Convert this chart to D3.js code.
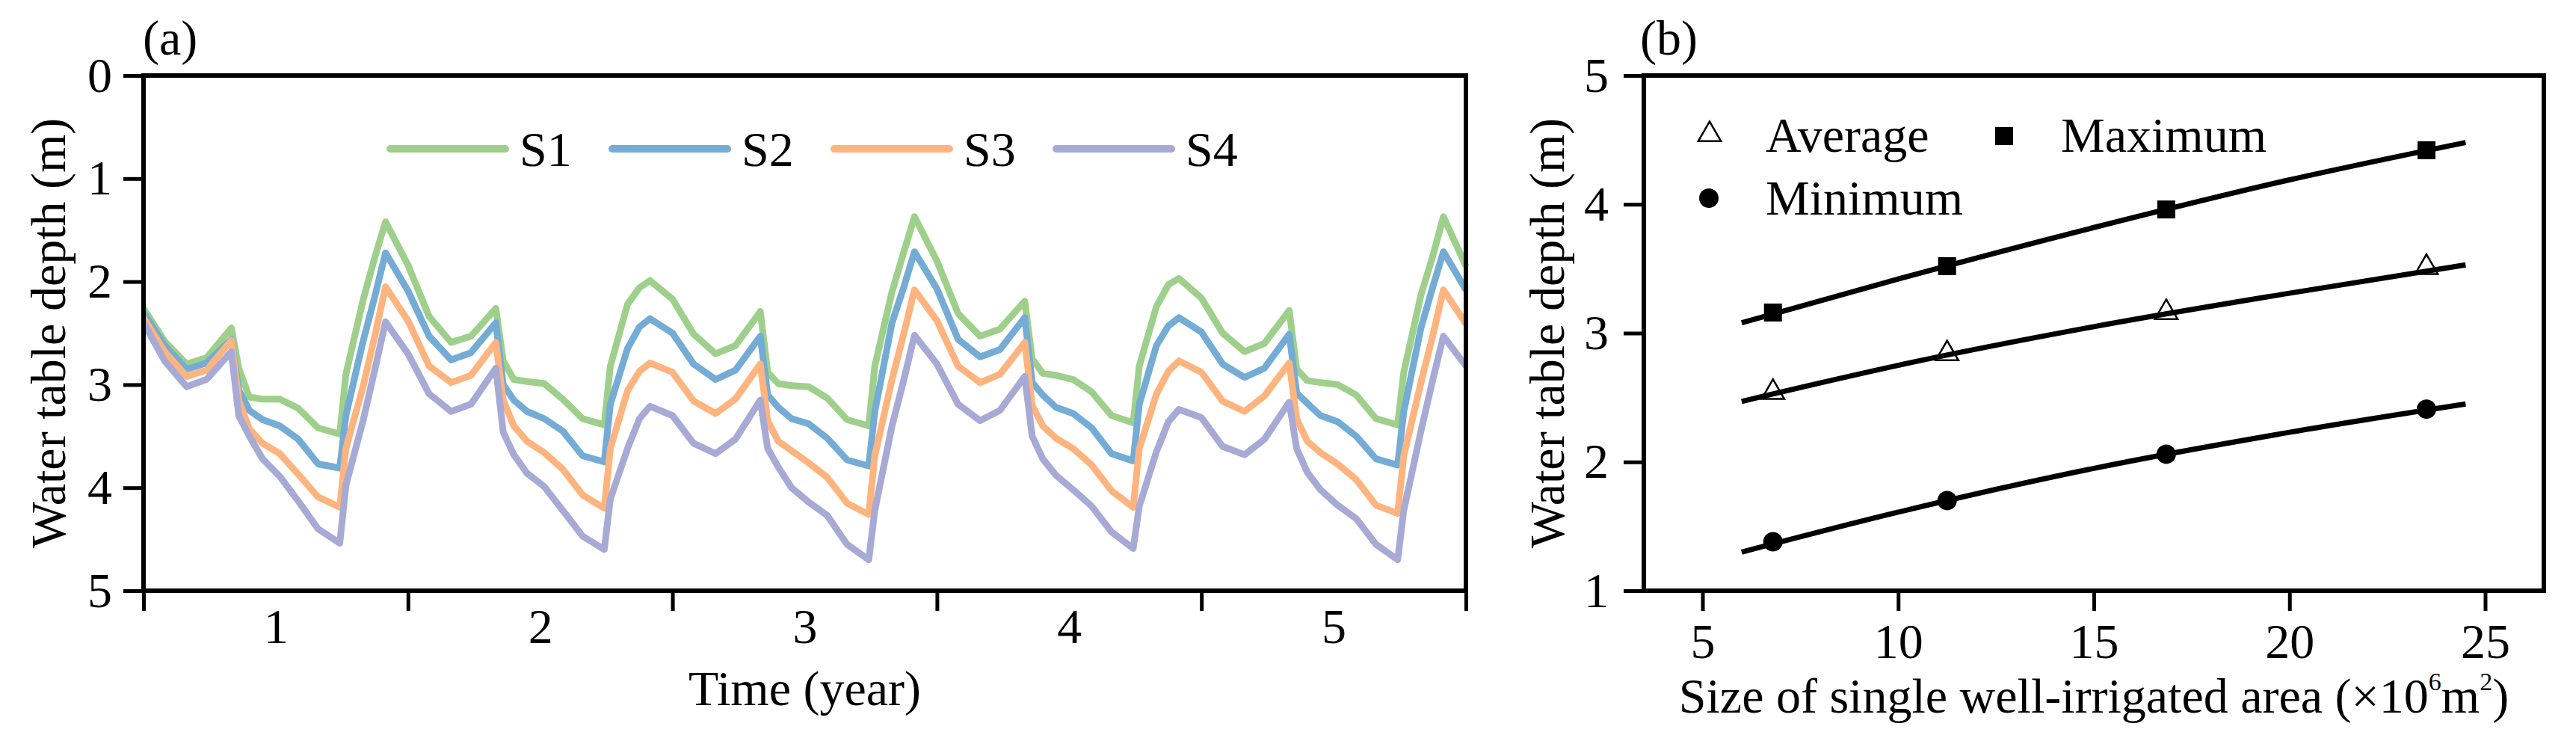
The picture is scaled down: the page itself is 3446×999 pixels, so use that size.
<!DOCTYPE html>
<html>
<head>
<meta charset="utf-8">
<script src="https://cdn.jsdelivr.net/npm/d3@7"></script>
<style>
  body { margin: 0; background: #ffffff; }
  svg { display: block; }
  text { font-family: "Liberation Serif", "Times New Roman", serif; fill: #000; }
</style>
</head>
<body>
<svg id="chart" width="3446" height="999"></svg>
<script>
// ---------------- Panel (a) data ----------------
const time = [
  0, 0.08, 0.163, 0.238, 0.332, 0.36, 0.40, 0.45, 0.515, 0.585, 0.66, 0.742, 0.765, 0.83, 0.875, 0.915,
  1, 1.08, 1.163, 1.238, 1.332, 1.36, 1.40, 1.45, 1.515, 1.585, 1.66, 1.742, 1.765, 1.83, 1.875, 1.915,
  2, 2.08, 2.163, 2.238, 2.332, 2.36, 2.40, 2.45, 2.515, 2.585, 2.66, 2.742, 2.765, 2.83, 2.875, 2.915,
  3, 3.08, 3.163, 3.238, 3.332, 3.36, 3.40, 3.45, 3.515, 3.585, 3.66, 3.742, 3.765, 3.83, 3.875, 3.915,
  4, 4.08, 4.163, 4.238, 4.332, 4.36, 4.40, 4.45, 4.515, 4.585, 4.66, 4.742, 4.765, 4.83, 4.875, 4.915,
  5
];
const S1 = [
  2.26, 2.58, 2.80, 2.74, 2.45, 2.84, 3.12, 3.14, 3.14, 3.23, 3.42, 3.48, 2.90, 2.18, 1.76, 1.42,
  1.84, 2.34, 2.59, 2.53, 2.26, 2.77, 2.95, 2.97, 2.99, 3.14, 3.33, 3.39, 2.82, 2.22, 2.06, 1.99,
  2.17, 2.51, 2.70, 2.62, 2.29, 2.88, 2.99, 3.01, 3.02, 3.13, 3.34, 3.40, 2.82, 2.10, 1.71, 1.37,
  1.80, 2.31, 2.53, 2.46, 2.19, 2.75, 2.89, 2.91, 2.95, 3.07, 3.30, 3.37, 2.82, 2.24, 2.03, 1.97,
  2.16, 2.50, 2.68, 2.60, 2.28, 2.85, 2.96, 2.98, 3.00, 3.10, 3.33, 3.39, 2.88, 2.13, 1.75, 1.37,
  1.85
];
const S2 = [
  2.30, 2.62, 2.85, 2.79, 2.56, 3.05, 3.25, 3.34, 3.40, 3.53, 3.77, 3.81, 3.30, 2.58, 2.14, 1.72,
  2.09, 2.53, 2.76, 2.69, 2.40, 3.00, 3.15, 3.26, 3.33, 3.45, 3.69, 3.75, 3.19, 2.65, 2.44, 2.36,
  2.50, 2.80, 2.95, 2.86, 2.53, 3.10, 3.22, 3.33, 3.38, 3.52, 3.73, 3.79, 3.26, 2.40, 2.05, 1.71,
  2.07, 2.56, 2.73, 2.66, 2.35, 2.98, 3.10, 3.22, 3.28, 3.42, 3.67, 3.74, 3.19, 2.62, 2.43, 2.35,
  2.49, 2.80, 2.93, 2.84, 2.51, 3.08, 3.18, 3.30, 3.36, 3.50, 3.72, 3.78, 3.26, 2.45, 2.05, 1.71,
  2.08
];
const S3 = [
  2.35, 2.68, 2.92, 2.86, 2.57, 3.15, 3.43, 3.57, 3.67, 3.87, 4.09, 4.19, 3.62, 3.02, 2.52, 2.05,
  2.38, 2.82, 2.98, 2.91, 2.59, 3.15, 3.40, 3.55, 3.66, 3.82, 4.07, 4.20, 3.62, 3.06, 2.87, 2.79,
  2.88, 3.16, 3.28, 3.14, 2.80, 3.35, 3.55, 3.64, 3.76, 3.90, 4.15, 4.26, 3.69, 2.95, 2.50, 2.08,
  2.38, 2.82, 2.98, 2.90, 2.59, 3.20, 3.40, 3.52, 3.62, 3.78, 4.03, 4.19, 3.62, 3.09, 2.87, 2.77,
  2.88, 3.16, 3.26, 3.11, 2.79, 3.33, 3.55, 3.66, 3.77, 3.92, 4.17, 4.25, 3.69, 2.98, 2.52, 2.08,
  2.41
];
const S4 = [
  2.40, 2.77, 3.02, 2.95, 2.68, 3.30, 3.50, 3.72, 3.89, 4.13, 4.40, 4.54, 3.98, 3.35, 2.85, 2.39,
  2.70, 3.09, 3.26, 3.19, 2.84, 3.46, 3.68, 3.86, 3.99, 4.22, 4.47, 4.60, 4.11, 3.62, 3.33, 3.21,
  3.30, 3.57, 3.67, 3.53, 3.15, 3.62, 3.80, 4.00, 4.14, 4.27, 4.55, 4.70, 4.22, 3.40, 2.95, 2.52,
  2.80, 3.19, 3.35, 3.25, 2.92, 3.50, 3.72, 3.88, 4.02, 4.18, 4.43, 4.59, 4.18, 3.65, 3.36, 3.24,
  3.32, 3.60, 3.68, 3.53, 3.17, 3.62, 3.85, 4.02, 4.17, 4.30, 4.55, 4.70, 4.22, 3.45, 2.95, 2.53,
  2.82
];
const seriesNames = ["S1", "S2", "S3", "S4"];
const seriesColors = ["#9ed08c", "#74acd5", "#feb47e", "#a6aad5"];
const yearTicks = [0, 1, 2, 3, 4, 5];
const yearLabelPos = [0.5, 1.5, 2.5, 3.5, 4.5];
const yearLabels = ["1", "2", "3", "4", "5"];
const depthTicksA = [0, 1, 2, 3, 4, 5];

// ---------------- Panel (b) data ----------------
const areaSize = [6.8, 11.25, 16.85, 23.5];
const avgDepth = [2.54, 2.84, 3.16, 3.51];
const maxDepth = [3.16, 3.52, 3.96, 4.42];
const minDepth = [1.38, 1.70, 2.06, 2.41];
const fitX = [6, 10, 15, 20, 24.5];
const fitAvg = [2.47, 2.75, 3.05, 3.31, 3.53];
const fitMax = [3.08, 3.42, 3.82, 4.19, 4.48];
const fitMin = [1.30, 1.61, 1.95, 2.23, 2.45];
const areaTicks = [5, 10, 15, 20, 25];
const depthTicksB = [1, 2, 3, 4, 5];

// ---------------- Drawing ----------------
const svg = d3.select("#chart");
const FS = 66;

function styleAxis(g) {
  g.attr("font-family", null).attr("font-size", null);
  g.select(".domain").remove();
  g.selectAll(".tick line").attr("stroke", "#000").attr("stroke-width", 5);
  g.selectAll(".tick text").attr("font-size", FS).attr("fill", "#000")
    .style("font-family", '"Liberation Serif", "Times New Roman", serif');
}

// ===== Panel (a) =====
const xA = d3.scaleLinear().domain([0, 5]).range([192, 1961]);
const yA = d3.scaleLinear().domain([0, 5]).range([101, 790]);
const gA = svg.append("g");

const lineA = d3.line()
  .x((d, i) => xA(time[i]))
  .y(d => yA(d))
  .curve(d3.curveLinear);

[S1, S2, S3, S4].forEach((s, k) => {
  gA.append("path")
    .datum(s)
    .attr("d", lineA)
    .attr("fill", "none")
    .attr("stroke", seriesColors[k])
    .attr("stroke-width", 9)
    .attr("stroke-linejoin", "round")
    .attr("stroke-linecap", "butt");
});

gA.append("rect")
  .attr("x", xA(0)).attr("y", yA(0))
  .attr("width", xA(5) - xA(0)).attr("height", yA(5) - yA(0))
  .attr("fill", "none").attr("stroke", "#000").attr("stroke-width", 6);

gA.append("g").attr("transform", `translate(${xA(0)},0)`)
  .call(d3.axisLeft(yA).tickValues(depthTicksA).tickSize(27).tickPadding(15).tickFormat(d3.format("d")))
  .call(styleAxis);

gA.append("g").attr("transform", `translate(0,${yA(5)})`)
  .call(d3.axisBottom(xA).tickValues(yearTicks).tickSize(27).tickFormat(""))
  .call(styleAxis);

gA.append("g").attr("transform", `translate(0,${yA(5)})`)
  .call(d3.axisBottom(xA).tickValues(yearLabelPos).tickSize(0).tickPadding(23)
    .tickFormat((d, i) => yearLabels[i]))
  .call(styleAxis);

// legend (a)
const legA = gA.append("g");
seriesNames.forEach((name, k) => {
  const x0 = 522 + k * 297;
  legA.append("line")
    .attr("x1", x0).attr("x2", x0 + 154)
    .attr("y1", 199).attr("y2", 199)
    .attr("stroke", seriesColors[k]).attr("stroke-width", 10)
    .attr("stroke-linecap", "round");
  legA.append("text")
    .attr("x", x0 + 173).attr("y", 222)
    .attr("font-size", FS).text(name);
});

gA.append("text").attr("x", 191).attr("y", 73).attr("font-size", FS).text("(a)");
gA.append("text").attr("x", (xA(0) + xA(5)) / 2).attr("y", 943)
  .attr("text-anchor", "middle").attr("font-size", FS).text("Time (year)");
gA.append("text")
  .attr("transform", `translate(87,${(yA(0) + yA(5)) / 2}) rotate(-90)`)
  .attr("text-anchor", "middle").attr("font-size", FS).text("Water table depth (m)");

// ===== Panel (b) =====
const xB = d3.scaleLinear().domain([3.5, 26.5]).range([2199, 3403]);
const yB = d3.scaleLinear().domain([1, 5]).range([790, 101]);
const gB = svg.append("g");

gB.append("rect")
  .attr("x", xB(3.5)).attr("y", yB(5))
  .attr("width", xB(26.5) - xB(3.5)).attr("height", yB(1) - yB(5))
  .attr("fill", "none").attr("stroke", "#000").attr("stroke-width", 6);

gB.append("g").attr("transform", `translate(${xB(3.5)},0)`)
  .call(d3.axisLeft(yB).tickValues(depthTicksB).tickSize(27).tickPadding(20).tickFormat(d3.format("d")))
  .call(styleAxis);

gB.append("g").attr("transform", `translate(0,${yB(1)})`)
  .call(d3.axisBottom(xB).tickValues(areaTicks).tickSize(27).tickPadding(16).tickFormat(d3.format("d")))
  .call(styleAxis);

const fitLine = d3.line()
  .x((d, i) => xB(fitX[i]))
  .y(d => yB(d))
  .curve(d3.curveMonotoneX);

[fitMax, fitAvg, fitMin].forEach(f => {
  gB.append("path").datum(f).attr("d", fitLine)
    .attr("fill", "none").attr("stroke", "#000").attr("stroke-width", 7);
});

const triPath = d3.symbol(d3.symbolTriangle, 400)();

// Average: open triangles
gB.selectAll(".avg").data(avgDepth).enter().append("path")
  .attr("d", triPath)
  .attr("transform", (d, i) => `translate(${xB(areaSize[i])},${yB(d)})`)
  .attr("fill", "none").attr("stroke", "#000").attr("stroke-width", 2.5);

// Maximum: filled squares
gB.selectAll(".max").data(maxDepth).enter().append("rect")
  .attr("x", (d, i) => xB(areaSize[i]) - 12)
  .attr("y", d => yB(d) - 12)
  .attr("width", 24).attr("height", 24).attr("fill", "#000");

// Minimum: filled circles
gB.selectAll(".min").data(minDepth).enter().append("circle")
  .attr("cx", (d, i) => xB(areaSize[i]))
  .attr("cy", d => yB(d))
  .attr("r", 13).attr("fill", "#000");

// legend (b)
const legB = gB.append("g");
legB.append("path").attr("d", triPath).attr("transform", "translate(2287,180)")
  .attr("fill", "none").attr("stroke", "#000").attr("stroke-width", 2.5);
legB.append("text").attr("x", 2362).attr("y", 203).attr("font-size", FS).text("Average");
legB.append("rect").attr("x", 2669).attr("y", 170).attr("width", 24).attr("height", 24).attr("fill", "#000");
legB.append("text").attr("x", 2757).attr("y", 203).attr("font-size", FS).text("Maximum");
legB.append("circle").attr("cx", 2286).attr("cy", 265).attr("r", 13).attr("fill", "#000");
legB.append("text").attr("x", 2362).attr("y", 287).attr("font-size", FS).text("Minimum");

gB.append("text").attr("x", 2194).attr("y", 73).attr("font-size", FS).text("(b)");
gB.append("text")
  .attr("transform", `translate(2092,${(yB(1) + yB(5)) / 2}) rotate(-90)`)
  .attr("text-anchor", "middle").attr("font-size", FS).text("Water table depth (m)");

const xl = gB.append("text").attr("x", (xB(3.5) + xB(26.5)) / 2).attr("y", 953)
  .attr("text-anchor", "middle").attr("font-size", FS);
xl.append("tspan").text("Size of single well-irrigated area (\u00d710");
xl.append("tspan").attr("font-size", 34).attr("dy", -30).text("6");
xl.append("tspan").attr("dy", 30).text("m");
xl.append("tspan").attr("font-size", 34).attr("dy", -30).text("2");
xl.append("tspan").attr("dy", 30).text(")");
</script>
</body>
</html>
